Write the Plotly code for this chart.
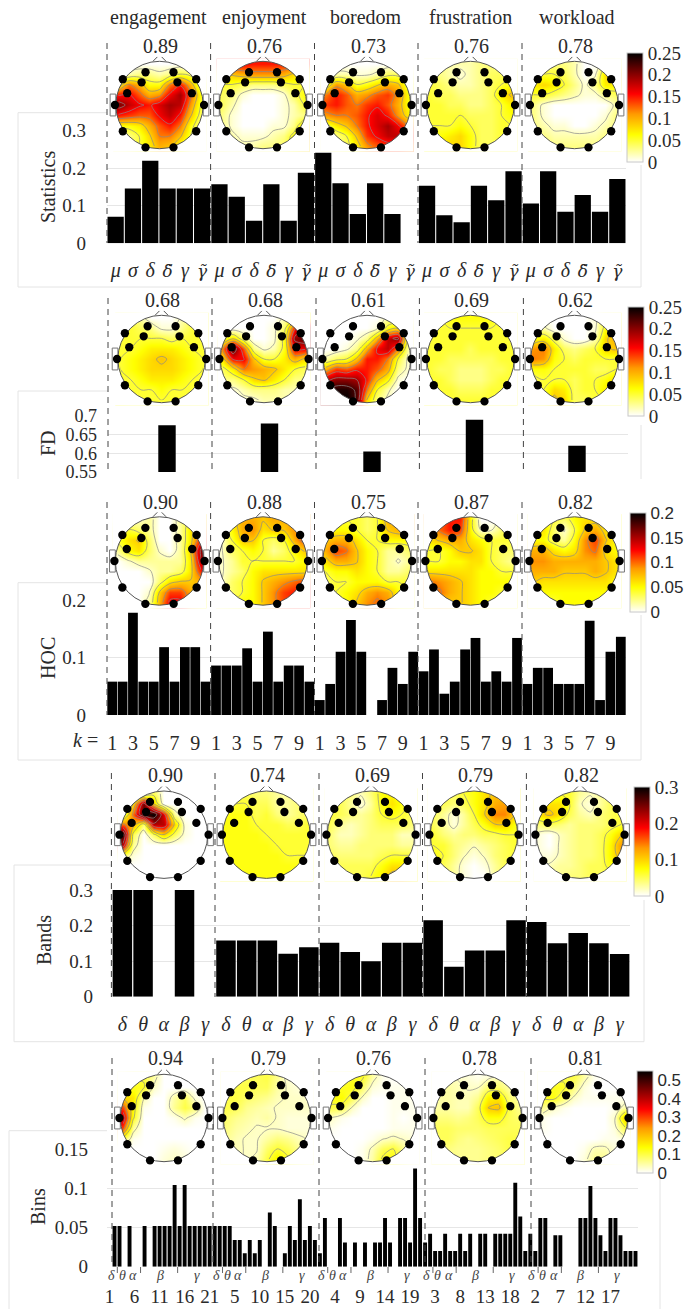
import math
import plotly.graph_objects as go

W, H = 685, 1309
SERIF = "Liberation Serif"
SANS = "Liberation Sans"
INK = "#2a2a2a"

emotions = ["engagement", "enjoyment", "boredom", "frustration", "workload"]

# correlation values over every scalp map
stat_scores = ["0.89", "0.76", "0.73", "0.76", "0.78"]
fd_scores = ["0.68", "0.68", "0.61", "0.69", "0.62"]
hoc_scores = ["0.90", "0.88", "0.75", "0.87", "0.82"]
band_scores = ["0.90", "0.74", "0.69", "0.79", "0.82"]
bin_scores = ["0.94", "0.79", "0.76", "0.78", "0.81"]

# bar series
stat_values = [.071, .146, .22, .146, .146, .146,
               .157, .124, .06, .157, .06, .188,
               .241, .16, .078, .16, .078, 0,
               .153, .075, .056, .153, .115, .192,
               .106, .192, .084, .129, .084, .171]
stat_labels = ["μ", "σ", "δ", "δ\u0303", "γ", "γ\u0303"] * 5

fd_values = [.675, .68, .605, .69, .62]

hoc_values = [.058, .058, .178, .058, .058, .118, .058, .118, .118, .058,
              .086, .086, .086, .116, .058, .145, .058, .086, .086, .058,
              .026, .054, .11, .165, .11, 0, .026, .082, .054, .11,
              .076, .114, .037, .058, .114, .134, .058, .076, .058, .134,
              .054, .082, .082, .054, .054, .054, .164, .026, .11, .136]
hoc_labels = ["1", "3", "5", "7", "9"] * 5

band_values = [.3, .3, 0, .3, 0,
               .158, .158, .158, .121, .139,
               .152, .126, .1, .152, .152,
               .215, .084, .13, .13, .215,
               .21, .15, .179, .15, .12]
band_labels = ["δ", "θ", "α", "β", "γ"] * 5

bin_values = [.052, .052, 0, .052, 0, 0, .052, 0, .052, .052, .052, .052, .104, .052, .104, .052, .052, .052, .052, .052, .052,
              .052, .052, .052, .034, .034, .017, .034, .017, .034, 0, .069, .052, 0, .017, .052, .034, .086, .034, .052, .034, .017,
              .062, 0, 0, .062, .031, 0, .031, 0, .031, 0, .031, .031, .062, .031, 0, .062, .062, .031, .125, .062, .031,
              .042, .02, .02, .042, .02, .02, .042, .02, .042, 0, .042, .042, 0, .042, .042, .042, .042, .107, .064, .02, .042,
              .02, .062, .062, 0, .04, .04, 0, 0, 0, .062, .062, .103, .062, .04, .02, .062, .062, .04, .02, .02, .02]
bin_tick_positions = [-1, 4, 9, 14, 19, 24, 29, 34, 39, 44, 49, 54, 59, 64, 69, 74, 79, 84, 89, 94, 99]
bin_tick_labels = ["1", "6", "11", "16", "21", "5", "10", "15", "20", "4", "9", "14", "19", "3", "8", "13", "18", "2", "7", "12", "17"]
bin_band_names = ["δ", "θ", "α", "β", "γ"]
bin_band_offsets = [-0.7, 1.5, 3.7, 9.0, 16.4]
bin_band_edges = [0.56, 5.2, 12.6]

# colour bars
stat_cbar = ([0, .05, .1, .15, .2, .25], ["0", "0.05", "0.1", "0.15", "0.2", "0.25"])
fd_cbar = stat_cbar
hoc_cbar = ([0, .05, .1, .15, .2], ["0", "0.05", "0.1", "0.15", "0.2"])
band_cbar = ([0, .1, .2, .3], ["0", "0.1", "0.2", "0.3"])
bin_cbar = ([0, .1, .2, .3, .4, .5], ["0", "0.1", "0.2", "0.3", "0.4", "0.5"])

# scalp maps: values in hundredths, nine rows from front to back, nine columns from left to right
stat_engagement = [[0,0,0,0,0,0,0,0,0],[0,2,3,3,2,3,5,4,1],[6,12,10,6,6,12,15,10,4],[15,16,13,10,11,16,19,13,6],[21,18,16,15,17,19,18,11,5],[15,14,13,13,16,18,15,9,4],[6,6,7,10,13,15,12,6,3],[2,3,5,8,12,12,9,5,2],[2,3,5,7,10,9,6,3,2]]
stat_enjoyment = [[16,16,16,15,15,15,15,15,15],[8,9,10,11,11,11,10,8,6],[5,5,4,3,3,3,4,5,5],[4,3,1,0,0,0,1,4,6],[4,2,0,0,0,0,1,2,5],[3,1,0,0,0,0,1,2,3],[3,1,0,0,0,1,1,3,8],[3,2,1,1,1,2,3,6,10],[3,2,2,2,3,3,4,6,8]]
stat_boredom = [[0,0,0,0,0,0,0,0,0],[0,2,2,1,1,2,4,4,2],[5,11,9,5,6,8,10,9,5],[12,15,13,10,11,13,14,11,6],[14,15,13,12,14,15,13,10,6],[11,12,12,13,15,17,15,11,7],[4,7,9,12,15,17,19,16,12],[2,3,5,9,14,16,18,18,15],[2,3,4,7,11,13,14,14,12]]
stat_frustration = [[3,3,2,2,2,3,3,3,3],[3,3,2,1,2,3,4,4,4],[5,4,3,2,2,3,4,5,6],[5,4,4,3,3,3,4,7,9],[5,5,4,4,3,3,4,5,7],[5,5,5,5,4,4,4,5,6],[5,5,5,6,5,4,4,5,5],[6,6,7,8,6,4,4,5,5],[6,7,8,8,6,4,4,5,5]]
stat_workload = [[3,3,3,3,2,0,0,3,3],[5,5,5,4,2,0,1,8,9],[7,8,7,5,3,1,3,7,7],[5,5,4,3,2,1,1,3,4],[3,1,0,0,0,0,0,0,2],[3,1,0,0,0,0,0,1,3],[3,2,1,1,0,0,1,2,3],[4,3,2,2,2,2,2,3,4],[4,4,3,3,3,3,3,4,4]]

fd_engagement = [[5,4,2,0,0,0,2,4,5],[5,5,4,3,1,1,3,5,5],[5,5,5,5,5,4,5,5,5],[5,5,6,7,7,7,6,5,5],[5,6,7,8,9,8,7,6,5],[5,6,7,8,8,8,7,6,5],[5,5,6,7,7,7,6,5,5],[5,5,5,5,6,5,5,5,5],[6,5,5,5,5,5,5,5,5]]
fd_enjoyment = [[0,0,0,0,0,0,2,5,6],[0,0,0,0,0,1,4,15,20],[5,8,3,0,0,1,6,20,22],[12,22,13,3,1,2,6,16,16],[8,16,16,9,5,5,7,10,8],[4,7,12,11,10,9,7,5,4],[3,3,5,8,9,7,5,3,3],[1,1,2,3,3,3,2,2,2],[0,0,1,1,2,2,2,1,1]]
fd_boredom = [[0,0,0,0,0,0,2,2,1],[0,0,0,0,0,1,6,8,3],[0,0,0,1,3,10,18,20,3],[0,0,1,3,10,16,18,12,2],[2,4,5,9,15,15,12,5,1],[10,14,13,15,15,13,10,3,1],[18,20,20,19,15,9,6,1,0],[22,24,24,22,12,5,2,0,0],[20,24,25,22,8,3,1,0,0]]
fd_frustration = [[5,5,6,6,6,6,6,5,5],[5,5,5,5,5,5,5,5,5],[5,5,5,5,5,5,5,5,5],[5,5,5,5,4,5,5,5,5],[5,5,4,4,4,4,4,5,5],[5,4,4,3,3,3,4,4,5],[5,5,4,3,3,3,4,5,5],[5,5,5,4,4,4,5,5,5],[6,5,5,5,5,5,5,5,6]]
fd_workload = [[0,0,0,0,0,0,1,4,5],[2,2,0,0,0,0,1,6,8],[6,7,4,1,0,0,2,8,10],[11,12,7,4,3,4,5,8,9],[12,11,6,5,4,5,5,5,5],[6,6,5,5,5,5,4,4,5],[4,5,5,5,4,5,5,6,8],[4,5,8,7,4,5,5,7,7],[4,5,9,8,4,4,5,5,5]]

hoc_engagement = [[1,1,1,2,0,0,2,5,7],[3,4,3,2,0,0,2,6,9],[4,6,7,3,0,0,2,6,12],[2,5,6,3,1,0,2,7,16],[0,1,2,2,2,2,2,6,15],[0,0,0,1,2,2,3,6,12],[0,0,0,0,3,6,7,7,8],[0,0,0,1,7,11,11,8,6],[0,0,0,2,8,13,13,8,5]]
hoc_enjoyment = [[5,6,8,8,7,8,8,8,8],[3,5,8,9,6,7,7,9,11],[1,4,7,7,4,3,4,8,11],[1,3,4,5,4,2,3,5,7],[1,2,4,4,4,4,4,4,5],[1,2,3,5,6,6,6,6,6],[1,3,4,5,7,8,9,10,11],[3,3,4,5,7,9,11,12,13],[3,4,5,5,7,9,11,12,12]]
hoc_boredom = [[4,4,4,4,3,4,8,8,8],[5,5,5,4,3,4,7,8,8],[7,8,8,6,4,4,5,5,5],[8,11,10,7,5,4,2,2,3],[6,8,8,7,5,4,2,1,2],[4,5,5,6,5,4,2,2,3],[3,4,4,5,5,5,4,4,4],[3,4,5,6,8,9,8,5,4],[3,4,5,7,9,10,9,5,4]]
hoc_frustration = [[9,10,12,12,5,0,0,2,3],[7,10,12,11,5,1,1,3,4],[6,7,8,8,6,5,4,4,4],[4,4,5,7,7,6,4,3,3],[4,4,5,5,6,6,4,3,2],[6,6,6,6,6,5,5,4,4],[10,9,8,7,6,5,5,5,5],[9,10,8,7,6,5,5,4,4],[7,8,7,7,6,5,4,4,4]]
hoc_workload = [[5,5,4,3,5,6,6,5,5],[5,6,3,1,4,7,8,6,5],[5,5,3,2,5,9,11,7,5],[8,8,6,5,6,9,10,6,5],[9,9,8,8,8,8,8,7,6],[8,8,8,7,7,7,8,7,6],[7,6,6,6,6,6,6,6,5],[5,5,5,5,5,5,5,5,5],[4,4,4,5,5,5,5,4,4]]

band_engagement = [[0,0,0,5,0,0,0,0,0],[3,10,25,10,0,0,0,0,0],[3,15,28,30,20,3,0,0,0],[15,12,4,22,22,10,1,0,0],[28,5,0,5,10,5,1,0,0],[22,3,0,0,0,0,0,0,0],[5,1,0,0,0,0,0,0,0],[0,0,0,0,0,0,0,0,0],[0,0,0,0,0,0,0,0,0]]
band_enjoyment = [[6,6,5,4,4,3,3,4,5],[6,6,6,5,5,3,3,4,5],[7,7,7,5,6,4,3,4,5],[7,7,7,6,6,6,5,5,6],[7,7,7,7,6,6,6,6,6],[7,7,7,7,7,6,6,6,6],[7,7,7,7,7,7,6,6,6],[7,7,7,7,7,7,7,7,7],[7,7,7,7,7,7,7,7,7]]
band_boredom = [[4,4,4,2,4,7,8,6,5],[5,5,3,1,3,7,9,7,5],[6,5,4,3,4,6,7,6,5],[5,3,2,3,4,5,5,5,4],[4,2,2,3,4,4,4,2,2],[4,3,3,4,4,4,4,3,3],[5,4,4,4,4,5,6,6,6],[5,5,5,5,5,7,9,9,7],[5,5,5,5,6,8,11,11,8]]
band_frustration = [[5,5,5,6,7,9,11,10,8],[5,5,4,5,7,9,12,13,10],[5,3,1,3,6,10,14,14,10],[5,3,1,3,5,7,10,10,7],[6,4,3,4,4,5,5,6,6],[6,6,4,3,2,3,4,5,6],[7,6,4,2,1,2,4,5,6],[7,5,3,1,0,1,3,5,6],[7,5,3,1,0,0,3,5,6]]
band_workload = [[5,5,6,6,3,2,3,4,5],[7,9,9,6,2,1,3,5,5],[9,11,9,5,3,2,4,5,6],[4,5,4,3,4,4,4,5,6],[1,0,2,3,4,4,5,7,10],[1,0,2,3,4,4,5,8,13],[1,1,2,3,4,4,5,8,12],[2,2,3,3,4,5,5,7,8],[3,3,3,4,4,5,5,5,6]]

bin_engagement = [[5,10,10,5,0,0,0,0,0],[8,12,12,3,0,0,0,0,0],[18,16,4,0,0,5,9,2,0],[30,14,1,0,0,6,10,7,0],[40,12,0,0,0,1,4,1,0],[30,5,0,0,0,0,0,0,0],[10,1,0,0,0,0,0,0,0],[0,0,0,0,1,2,1,0,0],[0,0,0,0,2,3,2,0,0]]
bin_enjoyment = [[8,8,9,9,10,6,2,2,2],[9,10,10,9,9,5,3,2,2],[10,10,8,7,6,4,3,3,3],[10,9,6,5,4,3,3,3,3],[8,6,5,4,5,3,2,2,2],[7,5,4,3,3,3,2,2,2],[6,4,3,3,5,7,6,4,3],[5,4,3,3,8,11,9,6,3],[5,4,3,4,10,15,12,7,4]]
bin_boredom = [[8,8,12,12,5,1,0,0,0],[10,12,13,8,2,1,1,1,1],[13,14,9,3,0,0,1,1,1],[10,9,3,0,0,0,1,1,1],[3,1,0,0,0,0,1,0,1],[1,0,0,0,0,0,1,1,1],[0,0,0,0,1,3,4,3,2],[0,0,0,1,4,9,11,6,3],[0,0,0,1,5,12,13,7,3]]
bin_frustration = [[5,4,3,2,1,2,4,4,4],[5,5,4,3,3,8,8,5,4],[5,5,4,4,6,15,16,8,5],[5,5,4,4,9,19,20,10,6],[7,7,6,7,9,13,13,9,8],[9,9,8,8,8,9,9,9,9],[9,9,7,6,7,8,9,10,10],[7,7,6,6,6,7,8,10,10],[7,7,6,6,6,7,8,9,10]]
bin_workload = [[8,8,10,10,5,1,0,0,0],[10,12,12,7,2,0,0,0,0],[12,13,8,3,1,1,1,1,1],[6,3,1,0,0,0,0,1,5],[1,0,0,0,0,0,0,3,20],[1,0,0,0,0,0,0,2,10],[0,0,0,0,0,0,1,1,2],[0,0,0,0,1,4,4,2,1],[0,0,0,0,2,6,6,2,1]]

# cell edges and centres of the nine by nine scalp grid
SPAN = 1.06
grid_edges = [-SPAN + k * 2 * SPAN / 9 for k in range(10)]
grid_centres = [(grid_edges[k] + grid_edges[k + 1]) / 2 for k in range(9)]

# electrode sites on the unit head
site_x = [.32, .84, .41, .74, 1.02, .84, .32]
site_y = [.75, .59, .52, .27, 0, -.60, -.97]

HOT = [[0, "#ffffff"], [.25, "#ffff00"], [.44, "#ff9a00"], [.625, "#ff0000"], [.8, "#8a0000"], [1, "#000000"]]


def fx(p):
    return p / W


def fy(p):
    return 1 - p / H


rows = [
    dict(key="stat", maps=[stat_engagement, stat_enjoyment, stat_boredom, stat_frustration, stat_workload],
         scores=stat_scores, cbar=stat_cbar, zmax=.25, cx=[159.5, 263, 367, 470.5, 574.5], cy=105, r=43.7, label_y=45.5,
         cb=(627, 53, 162), cfont=SERIF, csize=19, dash=[107, 210.6, 314.5, 418, 522], dash_y=(43, 243),
         box=dict(left=18, right=641, top=112.7, bottom=287, right_top=165, top_end=107)),
    dict(key="fd", maps=[fd_engagement, fd_enjoyment, fd_boredom, fd_frustration, fd_workload],
         scores=fd_scores, cbar=fd_cbar, zmax=.25, cx=[161.6, 264, 367, 470.5, 574.5], cy=359, r=43.7, label_y=300,
         cb=(628, 307, 416), cfont=SERIF, csize=19, dash=[108, 212, 316, 419.4, 523.4], dash_y=(298, 472),
         box=dict(left=18, right=641, top=391, bottom=None, bottom_open=479, right_top=425, top_end=108)),
    dict(key="hoc", maps=[hoc_engagement, hoc_enjoyment, hoc_boredom, hoc_frustration, hoc_workload],
         scores=hoc_scores, cbar=hoc_cbar, zmax=.2, cx=[159.5, 263, 367, 470.5, 574.5], cy=561, r=44.2, label_y=502,
         cb=(630.4, 513, 612), cfont=SANS, csize=17, dash=[107, 210.6, 314.5, 418, 522], dash_y=(502, 715),
         box=dict(left=18, right=641, top=582.7, bottom=760, right_top=615, top_end=107)),
    dict(key="band", maps=[band_engagement, band_enjoyment, band_boredom, band_frustration, band_workload],
         scores=band_scores, cbar=band_cbar, zmax=.3, cx=[164, 266.5, 371, 474, 580], cy=834.7, r=43.7, label_y=775,
         cb=(634, 787, 896), cfont=SERIF, csize=19, dash=[111.4, 215, 319, 422.5, 526.4], dash_y=(773, 997),
         box=dict(left=14, right=644, top=865, bottom=1041.7, right_top=900, top_end=112)),
    dict(key="bin", maps=[bin_engagement, bin_enjoyment, bin_boredom, bin_frustration, bin_workload],
         scores=bin_scores, cbar=bin_cbar, zmax=.55, cx=[164, 267, 372.6, 478, 584], cy=1118, r=43.7, label_y=1057.7,
         cb=(637, 1071, 1173), cfont=SANS, csize=17, dash=[112, 213, 319, 425, 531], dash_y=(1058, 1267),
         box=dict(left=9, right=660, top=1130.7, bottom=None, bottom_open=1309, right_top=1178, top_end=107)),
]

fig = go.Figure()
shapes, notes = [], []
layout = {}


def text(x, y, s, size=20, font=SERIF, angle=0, xref="paper", anchor="center"):
    notes.append(dict(x=x, y=y, text=s, xref=xref, yref="paper", showarrow=False, textangle=angle,
                      xanchor=anchor, yanchor="middle", font=dict(family=font, size=size, color=INK)))


def stat_tick(t):
    if "\u0303" in t:
        return f'<span style="font-family:\'DejaVu Serif\';font-size:17px"><i>{t}</i></span>'
    return f"<i>{t}</i>"


# bar panels
bars = [
    dict(y=stat_values, width=.94, dom=(107, 626), ydom=(130.7, 243.3), yr=[0, .3], ticks=[0, .1, .2, .3],
         ytext=["0", "0.1", "0.2", "0.3"], xt=list(range(30)), xl=[stat_tick(t) for t in stat_labels], ysoff=20, xsoff=13, xr=[-.5, 29.5], ysize=19),
    dict(y=fd_values, width=.17, dom=(108, 628), ydom=(416, 472), yr=[.55, .7], ticks=[.55, .6, .65, .7],
         ytext=["0.55", "0.6", "0.65", "0.7"], xt=[], xl=[], ysoff=10, xsoff=0, xr=[-.5756, 4.4976], ysize=18),
    dict(y=hoc_values, width=.94, dom=(107, 626), ydom=(600, 715), yr=[0, .2], ticks=[0, .1, .2],
         ytext=["0", "0.1", "0.2"], xt=list(range(0, 50, 2)), xl=hoc_labels, ysoff=20, xsoff=14, xr=[-.5, 49.5], ysize=19),
    dict(y=band_values, width=.94, dom=(112, 630), ydom=(890, 996.7), yr=[0, .3], ticks=[0, .1, .2, .3],
         ytext=["0", "0.1", "0.2", "0.3"], xt=list(range(25)), xl=[f"<i>{t}</i>" for t in band_labels], ysoff=18, xsoff=13, xr=[-.5, 24.5], ysize=19),
    dict(y=bin_values, width=.78, dom=(107, 638), ydom=(1149, 1266.7), yr=[0, .15], ticks=[0, .05, .1, .15],
         ytext=["0", "0.05", "0.1", "0.15"], xt=bin_tick_positions, xl=bin_tick_labels, ysoff=18, xsoff=16,
         xr=[-1.5, 104.5], ysize=19),
]

for i, b in enumerate(bars):
    n = i + 1
    sfx = "" if n == 1 else str(n)
    xs = list(range(len(b["y"])))
    fig.add_trace(go.Bar(x=xs, y=b["y"], width=b["width"], marker=dict(color="#000000", line=dict(width=0)),
                         xaxis="x" + sfx, yaxis="y" + sfx, showlegend=False))
    layout["xaxis" + sfx] = dict(domain=[fx(b["dom"][0]), fx(b["dom"][1])], range=b["xr"], anchor="y" + sfx,
                                 showgrid=False, zeroline=False, showline=False, ticks="",
                                 tickmode="array", tickvals=b["xt"], ticktext=b["xl"], tickangle=0,
                                 tickfont=dict(family=SERIF, size=19 if n == 5 else 20, color=INK),
                                 ticklabelstandoff=b["xsoff"])
    layout["yaxis" + sfx] = dict(domain=[fy(b["ydom"][1]), fy(b["ydom"][0])], range=b["yr"], anchor="x" + sfx,
                                 showgrid=True, gridcolor="#e6e6e6", gridwidth=1, zeroline=False, showline=False, ticks="",
                                 tickmode="array", tickvals=b["ticks"], ticktext=b["ytext"],
                                 tickfont=dict(family=SERIF, size=b["ysize"], color=INK), ticklabelstandoff=b["ysoff"])

# scalp maps: the head axes are wider than the head because shapes are clipped to their axes
axis_no = len(bars)
R = 1.25
M = 1.07
ring = []
for k in range(73):
    a = 2 * math.pi * k / 72
    ring.append((math.cos(a), math.sin(a)))
mask_path = f"M {-M} {-M} L {M} {-M} L {M} {M} L {-M} {M} Z M " + " L ".join(f"{x:.4f} {y:.4f}" for x, y in ring) + " Z"

for row in rows:
    zmax = row["zmax"]
    for j, grid in enumerate(row["maps"]):
        axis_no += 1
        xa, ya = f"x{axis_no}", f"y{axis_no}"
        cx, cy, r = row["cx"][j], row["cy"], row["r"]
        layout[f"xaxis{axis_no}"] = dict(domain=[fx(cx - R * r), fx(cx + R * r)], range=[-R, R], visible=False, anchor=ya)
        layout[f"yaxis{axis_no}"] = dict(domain=[fy(cy + R * r), fy(cy - R * r)], range=[-R, R], visible=False, anchor=xa)
        z = [[v * .01 for v in line] for line in grid[::-1]]
        cb = None
        if j == 0:
            left, top, bottom = row["cb"]
            cb = dict(x=fx(left), xanchor="left", xpad=0, y=fy(top), yanchor="top", ypad=0,
                      len=(bottom - top) / H, lenmode="fraction", thickness=16, thicknessmode="pixels",
                      tickmode="array", tickvals=row["cbar"][0], ticktext=row["cbar"][1], ticks="",
                      outlinecolor="#c8c8c8", outlinewidth=1, borderwidth=0,
                      tickfont=dict(family=row["cfont"], size=row["csize"], color=INK))
        fig.add_trace(go.Heatmap(x=grid_edges, y=grid_edges, z=z, zmin=0, zmax=zmax, colorscale=HOT, zsmooth="best",
                                 showscale=j == 0, colorbar=cb, xaxis=xa, yaxis=ya, hoverinfo="skip"))
        fig.add_trace(go.Contour(x=grid_centres, y=grid_centres, z=z, showscale=False, xaxis=xa, yaxis=ya, hoverinfo="skip",
                                 contours=dict(coloring="none", start=zmax * .06, end=zmax, size=zmax * .14),
                                 line=dict(color="#8a8a8a", width=.7, smoothing=1)))
        ref = dict(xref=xa, yref=ya)
        shapes.append(dict(type="path", path=mask_path, fillcolor="#ffffff", line=dict(width=0), layer="above", **ref))
        for side in (-1, 1):
            shapes.append(dict(type="rect", x0=side * 1.0, x1=side * 1.13, y0=-.25, y1=.25, fillcolor="#ffffff",
                               line=dict(color="#777777", width=1), layer="above", **ref))
            shapes.append(dict(type="line", x0=side * .15, y0=1.0, x1=side * .05, y1=1.1,
                               line=dict(color="#555555", width=1), layer="above", **ref))
        shapes.append(dict(type="circle", x0=-1, x1=1, y0=-1, y1=1, line=dict(color="#555555", width=1), layer="above", **ref))
        for sx, sy in zip(site_x, site_y):
            for side in (-1, 1):
                shapes.append(dict(type="circle", x0=side * sx - .095, x1=side * sx + .095, y0=sy - .095, y1=sy + .095,
                                   fillcolor="#000000", line=dict(width=0), layer="above", **ref))
        text(fx(cx + 1), fy(row["label_y"]), row["scores"][j])

    for xp in row["dash"]:
        shapes.append(dict(type="line", xref="paper", yref="paper", x0=fx(xp), x1=fx(xp), y0=fy(row["dash_y"][0]),
                           y1=fy(row["dash_y"][1]), line=dict(color="#444444", width=1, dash="6px,5px"), layer="above"))
    bx = row["box"]
    low = bx["bottom"] if bx.get("bottom") else bx["bottom_open"]
    path = (f"M {fx(bx['top_end'])} {fy(bx['top'])} L {fx(bx['left'])} {fy(bx['top'])} L {fx(bx['left'])} {fy(low)} ")
    if bx.get("bottom"):
        path += f"L {fx(bx['right'])} {fy(low)} L {fx(bx['right'])} {fy(bx['right_top'])}"
    else:
        path += f"M {fx(bx['right'])} {fy(low)} L {fx(bx['right'])} {fy(bx['right_top'])}"
    shapes.append(dict(type="path", xref="paper", yref="paper", path=path, line=dict(color="#e4e4e4", width=1), layer="below"))

# titles
for name, xp in zip(emotions, [158, 264, 366, 470, 577]):
    text(fx(xp), fy(17), name)
text(fx(48), fy(187), "Statistics", angle=-90)
text(fx(48), fy(443), "FD", angle=-90)
text(fx(48), fy(658), "HOC", angle=-90)
text(fx(44), fy(940), "Bands", angle=-90)
text(fx(38), fy(1207), "Bins", angle=-90)
text(fx(85), fy(740), "<i>k</i> =")

# band names and band edges below the last panel
for p in range(5):
    for nm, off in zip(bin_band_names, bin_band_offsets):
        notes.append(dict(x=21 * p + off, y=fy(1275), xref="x5", yref="paper", text=f"<i>{nm}</i>", showarrow=False,
                          xanchor="center", yanchor="middle", font=dict(family=SERIF, size=14, color="#444444")))
    for off in bin_band_edges:
        shapes.append(dict(type="line", xref="x5", yref="paper", x0=21 * p + off, x1=21 * p + off, y0=fy(1267), y1=fy(1273),
                           line=dict(color="#666666", width=1), layer="above"))

fig.update_layout(width=W, height=H, autosize=False, margin=dict(l=0, r=0, t=0, b=0, pad=0, autoexpand=False),
                  paper_bgcolor="#ffffff", plot_bgcolor="rgba(0,0,0,0)", showlegend=False, shapes=shapes,
                  annotations=notes, **layout)
fig.write_html("out.html", config=dict(displayModeBar=False),
               post_script="document.body.style.margin='0';document.documentElement.style.overflow='hidden';")
